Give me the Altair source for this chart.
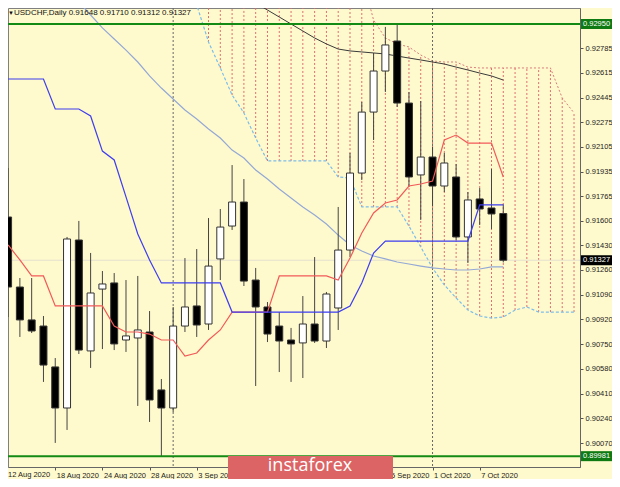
import json
import altair as alt
import pandas as pd

# ---------------- data ----------------
DATE_TICKS = ["12 Aug 2020", "18 Aug 2020", "24 Aug 2020", "28 Aug 2020", "3 Sep 2020",
              "9 Sep 2020", "15 Sep 2020", "21 Sep 2020", "25 Sep 2020", "1 Oct 2020", "7 Oct 2020"]
TICK_K = [0, 4, 8, 12, 16, 20, 24, 28, 32, 36, 40]
HIDDEN_TICK_K = [20, 24, 28]          # labels covered by the logo in the picture

OPEN = [0.91624, 0.91143, 0.90917, 0.90875, 0.90594, 0.90312, 0.91466, 0.90704, 0.91129, 0.91171,
        0.90779, 0.90793, 0.90834, 0.90436, 0.90312, 0.90875, 0.91013, 0.90889, 0.91336, 0.91562,
        0.91727, 0.91191, 0.91006, 0.90875, 0.90779, 0.90759, 0.90889, 0.90772, 0.90999, 0.91397,
        0.91926, 0.92345, 0.92627, 0.92833, 0.92407, 0.91913, 0.92036, 0.91837, 0.91899, 0.91487,
        0.91748, 0.91686, 0.91648]
HIGH = [0.91961, 0.91205, 0.91205, 0.90944, 0.90655, 0.91487, 0.91597, 0.91377, 0.91253, 0.91239,
        0.91191, 0.91219, 0.90978, 0.90511, 0.91006, 0.91342, 0.91404, 0.91617, 0.91679, 0.91981,
        0.91885, 0.91274, 0.91040, 0.90971, 0.90862, 0.91081, 0.91349, 0.91109, 0.91693, 0.92064,
        0.92414, 0.92751, 0.92930, 0.92950, 0.92483, 0.92421, 0.92105, 0.92064, 0.91988, 0.91796,
        0.91823, 0.91954, 0.91710]
LOW = [0.90937, 0.90800, 0.90827, 0.90491, 0.90072, 0.90161, 0.90683, 0.90587, 0.90717, 0.90710,
       0.90697, 0.90326, 0.90216, 0.89981, 0.90284, 0.90834, 0.90800, 0.90848, 0.91191, 0.91535,
       0.91150, 0.90463, 0.90765, 0.90559, 0.90491, 0.90518, 0.90759, 0.90724, 0.90848, 0.91349,
       0.91878, 0.92153, 0.92483, 0.92380, 0.91830, 0.91604, 0.91700, 0.91796, 0.91466, 0.91308,
       0.91569, 0.91542, 0.91312]
CLOSE = [0.91143, 0.90917, 0.90841, 0.90607, 0.90312, 0.91473, 0.90710, 0.91102, 0.91164, 0.90752,
         0.90807, 0.90848, 0.90367, 0.90312, 0.90875, 0.91006, 0.90882, 0.91287, 0.91555, 0.91727,
         0.91184, 0.91006, 0.90820, 0.90772, 0.90752, 0.90889, 0.90772, 0.91095, 0.91397, 0.91926,
         0.92345, 0.92627, 0.92806, 0.92407, 0.91899, 0.92036, 0.91837, 0.91995, 0.91487, 0.91741,
         0.91679, 0.91645, 0.91327]

TENKAN = [0.91432, 0.91329, 0.91219, 0.91219, 0.91013, 0.91013, 0.91013, 0.91013, 0.91013, 0.90875,
          0.90834, 0.90834, 0.90820, 0.90779, 0.90779, 0.90669, 0.90690, 0.90779, 0.90848, 0.90971,
          0.90971, 0.90971, 0.90971, 0.91219, 0.91219, 0.91219, 0.91219, 0.91219, 0.91191, 0.91342,
          0.91514, 0.91652, 0.91720, 0.91741, 0.91837, 0.91851, 0.91871, 0.92153, 0.92187, 0.92132,
          0.92132, 0.92132, 0.91899]
KIJUN = [0.92572, 0.92572, 0.92572, 0.92572, 0.92366, 0.92366, 0.92366, 0.92318, 0.92077, 0.92016,
         0.91762, 0.91507, 0.91329, 0.91171, 0.91171, 0.91171, 0.91171, 0.91171, 0.91171, 0.90971,
         0.90971, 0.90971, 0.90971, 0.90971, 0.90971, 0.90971, 0.90971, 0.90971, 0.90971, 0.91013,
         0.91171, 0.91377, 0.91459, 0.91459, 0.91459, 0.91459, 0.91459, 0.91459, 0.91459, 0.91459,
         0.91707, 0.91707, 0.91707]

MA_LIGHT_START = 5
MA_LIGHT = [0.93184, 0.93101, 0.93012, 0.92923, 0.92847, 0.92771, 0.92689, 0.92593, 0.92510, 0.92435,
            0.92359, 0.92297, 0.92229, 0.92167, 0.92084, 0.92029, 0.91947, 0.91885, 0.91816, 0.91755,
            0.91693, 0.91638, 0.91576, 0.91500, 0.91432, 0.91390, 0.91356, 0.91336, 0.91315, 0.91301,
            0.91287, 0.91274, 0.91267, 0.91260, 0.91260, 0.91267, 0.91281, 0.91281]
MA_DARK_START = 20
MA_DARK = [0.93135, 0.93094, 0.93046, 0.92998, 0.92950, 0.92902, 0.92854, 0.92813, 0.92778, 0.92765,
           0.92758, 0.92751, 0.92744, 0.92730, 0.92716, 0.92703, 0.92689, 0.92675, 0.92654, 0.92634,
           0.92613, 0.92593, 0.92565]

CLOUD_START = 15
CLOUD_LOWER = [0.93287, 0.93081, 0.92826, 0.92648, 0.92462, 0.92339, 0.92167, 0.92009, 0.92009, 0.92009,
               0.92009, 0.92009, 0.92009, 0.91899, 0.91892, 0.91693, 0.91693, 0.91693, 0.91693, 0.91562,
               0.91418, 0.91274, 0.91157, 0.91068, 0.90985, 0.90944, 0.90930, 0.90937, 0.90985, 0.91006,
               0.90971, 0.90971, 0.90971, 0.90971]
CLOUD_UPPER = [0.93500, 0.93500, 0.93500, 0.93500, 0.93500, 0.93500, 0.93500, 0.93500, 0.93500, 0.93500,
               0.93500, 0.93500, 0.93500, 0.93500, 0.93420, 0.93287, 0.92977, 0.92854, 0.92813, 0.92792,
               0.92737, 0.92696, 0.92689, 0.92689, 0.92654, 0.92648, 0.92648, 0.92648, 0.92648, 0.92648,
               0.92648, 0.92648, 0.92442, 0.92339]

SEPARATORS_K = [14, 36]
GREEN_LEVELS = [0.92950, 0.89981]
LAST_PRICE = 0.91327
Y_TICKS = [0.92785, 0.92615, 0.92445, 0.92275, 0.92105, 0.91935, 0.91765, 0.91600, 0.91430,
           0.91260, 0.91090, 0.90920, 0.90750, 0.90580, 0.90410, 0.90240, 0.90070]
BOX_PRICES = [0.92950, 0.89981, 0.91327]
BOX_TEXT = ["0.92950", "0.89981", "0.91327"]
BOX_COLORS = ["#0f7a12", "#0f7a12", "#000000"]
TITLE = "USDCHF,Daily  0.91648 0.91710 0.91312 0.91327"

# ---------------- layout ----------------
W, H = 572, 459
PX = 0.0000687                       # price per pixel
P_TOP = 0.92950 + 16 * PX
P_BOT = P_TOP - H * PX
K_LEFT = 42 - (507 - 8) / 12
K_RIGHT = K_LEFT + W / 12

xs = alt.Scale(domain=[K_LEFT, K_RIGHT], nice=False, zero=False)
ys = alt.Scale(domain=[P_BOT, P_TOP], nice=False, zero=False)
FONT = "Liberation Sans"

shown_labels = ["" if k in HIDDEN_TICK_K else t for k, t in zip(TICK_K, DATE_TICKS)]
AX_X = alt.Axis(
    values=TICK_K[1:], labelExpr=json.dumps(shown_labels).replace('"', "'") + "[round(datum.value/4)]",
    labelAlign="left", labelBaseline="top", labelPadding=1, labelOffset=1, tickSize=3,
    labelFontSize=7.5, labelFont=FONT, labelColor="#222222", domainColor="#666666",
    tickColor="#555555", grid=False, labelFlush=False, labelOverlap=False, labelBound=False,
    title=None)
AX_Y = alt.Axis(
    orient="right", values=Y_TICKS, format=".5f", labelFontSize=7.5, labelFont=FONT,
    labelColor="#222222", tickSize=3, tickColor="#555555", labelPadding=2,
    domainColor="#666666", grid=False, labelOverlap=False, labelFlush=False, title=None)

n = len(OPEN)
candles = pd.DataFrame({"k": list(range(n)), "open": OPEN, "high": HIGH, "low": LOW, "close": CLOSE})
ind = pd.DataFrame({"k": list(range(n)), "tenkan": TENKAN, "kijun": KIJUN})
ma_l = pd.DataFrame({"k": list(range(MA_LIGHT_START, MA_LIGHT_START + len(MA_LIGHT))), "v": MA_LIGHT})
ma_d = pd.DataFrame({"k": list(range(MA_DARK_START, MA_DARK_START + len(MA_DARK))), "v": MA_DARK})
cloud = pd.DataFrame({"k": list(range(CLOUD_START, CLOUD_START + len(CLOUD_LOWER))),
                      "lo": CLOUD_LOWER, "up": CLOUD_UPPER})


def X(field="k"):
    return alt.X(f"{field}:Q", scale=xs, axis=AX_X)


def Y(field):
    return alt.Y(f"{field}:Q", scale=ys, axis=AX_Y)


hatch = alt.Chart(cloud).mark_rule(color="#dc6e6e", strokeDash=[2, 2], strokeWidth=1, clip=True).encode(
    x=X(), y=Y("lo"), y2="up:Q")
upper = alt.Chart(cloud).mark_line(color="#d97b7b", strokeDash=[2, 2], strokeWidth=1, clip=True).encode(
    x=X(), y=Y("up"))
lower = alt.Chart(cloud).mark_line(color="#7cbdea", strokeDash=[3, 2], strokeWidth=1.2, clip=True).encode(
    x=X(), y=Y("lo"))

last_line = alt.Chart(pd.DataFrame({"p": [LAST_PRICE]})).mark_rule(color="#e4dfcf", strokeWidth=1).encode(
    y=Y("p"))
green = alt.Chart(pd.DataFrame({"p": GREEN_LEVELS})).mark_rule(color="#138a13", strokeWidth=2).encode(
    y=Y("p"))
seps = alt.Chart(pd.DataFrame({"k": SEPARATORS_K})).mark_rule(
    color="#666666", strokeDash=[2, 2], strokeWidth=1).encode(x=X())

wicks = alt.Chart(candles).mark_rule(color="#444444", strokeWidth=1).encode(
    x=X(), y=Y("low"), y2="high:Q")

bodies = alt.Chart(candles).transform_calculate(
    fillc="datum.close >= datum.open ? '#ffffff' : '#000000'"
).mark_bar(size=7, stroke="#333333", strokeWidth=1).encode(
    x=X(), y=Y("open"), y2="close:Q", fill=alt.Fill("fillc:N", scale=None))

ma_light = alt.Chart(ma_l).mark_line(color="#94a8d6", strokeWidth=1.2, clip=True).encode(x=X(), y=Y("v"))
ma_dark = alt.Chart(ma_d).mark_line(color="#3a3a3a", strokeWidth=1, clip=True).encode(x=X(), y=Y("v"))
tenkan = alt.Chart(ind).mark_line(color="#f25a5a", strokeWidth=1.2, clip=True).encode(x=X(), y=Y("tenkan"))
kijun = alt.Chart(ind).mark_line(color="#3d3df0", strokeWidth=1.2, clip=True).encode(x=X(), y=Y("kijun"))

one = pd.DataFrame({"a": [0]})
title_tri = alt.Chart(one).mark_text(text="▼", fontSize=6, align="left", baseline="middle",
                                     color="#111111").encode(x=alt.value(0), y=alt.value(5))
title_txt = alt.Chart(one).mark_text(text=TITLE, font=FONT, fontSize=8, align="left",
                                     baseline="middle", color="#111111").encode(
    x=alt.value(6), y=alt.value(5))
first_lab = alt.Chart(one).mark_text(text=DATE_TICKS[0], font=FONT, fontSize=7.5, align="left",
                                     baseline="top", color="#222222").encode(
    x=alt.value(0), y=alt.value(H + 4))

boxes_df = pd.DataFrame({"p": BOX_PRICES, "t": BOX_TEXT, "c": BOX_COLORS})
boxes = alt.Chart(boxes_df).transform_calculate(
    lo=f"datum.p - {5 * PX}", hi=f"datum.p + {5 * PX}"
).mark_rect().encode(
    x=alt.value(W + 1), x2=alt.value(W + 32), y=Y("lo"), y2="hi:Q", fill=alt.Fill("c:N", scale=None))
box_txt = alt.Chart(boxes_df).mark_text(font=FONT, fontSize=7.5, align="left", baseline="middle",
                                        color="#ffffff").encode(
    x=alt.value(W + 3), y=Y("p"), text="t:N")

logo = alt.Chart(one).mark_rect(color="#dc6464").encode(
    x=alt.value(220), x2=alt.value(385), y=alt.value(448), y2=alt.value(478))
logo_txt = alt.Chart(one).mark_text(text="instaforex", font="Open Sans", fontSize=18, align="center",
                                    baseline="middle", color="#ffffff").encode(
    x=alt.value(302), y=alt.value(458))

chart = alt.layer(
    hatch, upper, lower, last_line, seps, ma_light, ma_dark, wicks, bodies, tenkan, kijun, green,
    title_tri, title_txt, first_lab, boxes, box_txt, logo, logo_txt
).properties(
    width=W, height=H,
    autosize=alt.AutoSizeParams(type="none"),
    padding={"left": 0, "top": 0, "right": 32, "bottom": 12},
    background="#FFFACD",
).configure_view(stroke="#808080", strokeWidth=1)

chart.save("out.html", embed_options={"renderer": "svg", "actions": False})
